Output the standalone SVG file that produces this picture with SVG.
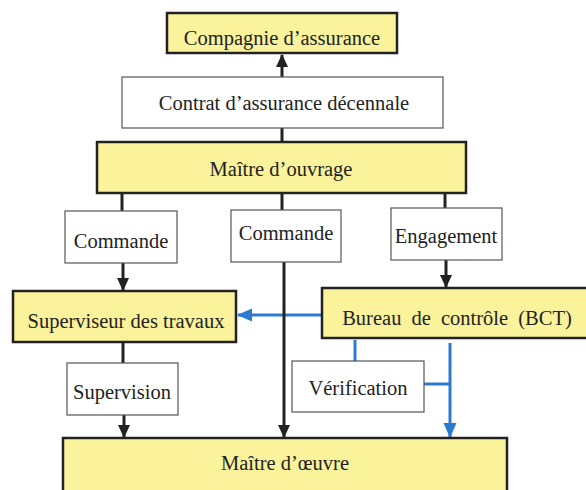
<svg xmlns="http://www.w3.org/2000/svg" width="586" height="490" viewBox="0 0 586 490">
<defs>
<style>
.y{fill:#faf39b;stroke:#222;stroke-width:2.5}
.w{fill:#fff;stroke:#555;stroke-width:1.2}
.t{font-family:"Liberation Serif","Times New Roman",serif;font-size:20.5px;fill:#222;text-anchor:middle}
.k{stroke:#222;stroke-width:3;fill:none}
.b{stroke:#2a7bd0;stroke-width:3;fill:none}
</style>
<marker id="ak" markerUnits="userSpaceOnUse" markerWidth="14" markerHeight="14" viewBox="0 0 14 14" refX="12" refY="7" orient="auto"><path d="M0,1 L13,7 L0,13 z" fill="#222"/></marker>
<marker id="ab" markerUnits="userSpaceOnUse" markerWidth="16" markerHeight="16" viewBox="0 0 16 16" refX="14" refY="8" orient="auto"><path d="M0,1.5 L15,8 L0,14.5 z" fill="#2a7bd0"/></marker>
</defs>
<rect width="586" height="490" fill="#fff"/>
<g id="connectors">
<path class="k" d="M282,77 V55" marker-end="url(#ak)"/>
<path class="k" d="M282,128 V142"/>
<path class="k" d="M122,193 V211"/>
<path class="k" d="M282,193 V210"/>
<path class="k" d="M445,193 V208"/>
<path class="k" d="M123,263 V290" marker-end="url(#ak)"/>
<path class="k" d="M446,260 V287" marker-end="url(#ak)"/>
<path class="k" d="M123,342 V363"/>
<path class="k" d="M124,415 V437" marker-end="url(#ak)"/>
<path class="b" d="M322,315 H238" marker-end="url(#ab)"/>
<path class="b" d="M355,340 V361"/>
<path class="b" d="M450,343 V437" marker-end="url(#ab)"/>
<path class="b" d="M424,384 H450"/>
<path class="k" d="M284,262 V437" marker-end="url(#ak)"/>
</g>
<g id="compagnie"><rect class="y" x="167" y="13" width="230" height="40"/><text class="t" x="282" y="45">Compagnie d’assurance</text></g>
<g id="contrat"><rect class="w" x="122" y="77" width="321" height="51"/><text class="t" x="284" y="110">Contrat d’assurance décennale</text></g>
<g id="maitre-ouvrage"><rect class="y" x="97" y="142" width="369" height="51"/><text class="t" x="281" y="176">Maître d’ouvrage</text></g>
<g id="commande1"><rect class="w" x="65" y="211" width="112" height="52"/><text class="t" x="121" y="248">Commande</text></g>
<g id="commande2"><rect class="w" x="231" y="210" width="110" height="52"/><text class="t" x="286" y="240">Commande</text></g>
<g id="engagement"><rect class="w" x="391" y="208" width="111" height="52"/><text class="t" x="446" y="243">Engagement</text></g>
<g id="superviseur"><rect class="y" x="13" y="291" width="223" height="51"/><text class="t" x="126" y="328">Superviseur des travaux</text></g>
<g id="bct"><rect class="y" x="322" y="288" width="270" height="50"/><text class="t" x="457" y="325" word-spacing="5">Bureau de contrôle (BCT)</text></g>
<g id="supervision"><rect class="w" x="67" y="363" width="111" height="52"/><text class="t" x="122" y="399">Supervision</text></g>
<g id="verification"><rect class="w" x="292" y="361" width="132" height="51"/><text class="t" x="358" y="395">Vérification</text></g>
<g id="maitre-oeuvre"><rect class="y" x="63" y="438" width="444" height="60"/><text class="t" x="285" y="470">Maître d’œuvre</text></g>
</svg>
